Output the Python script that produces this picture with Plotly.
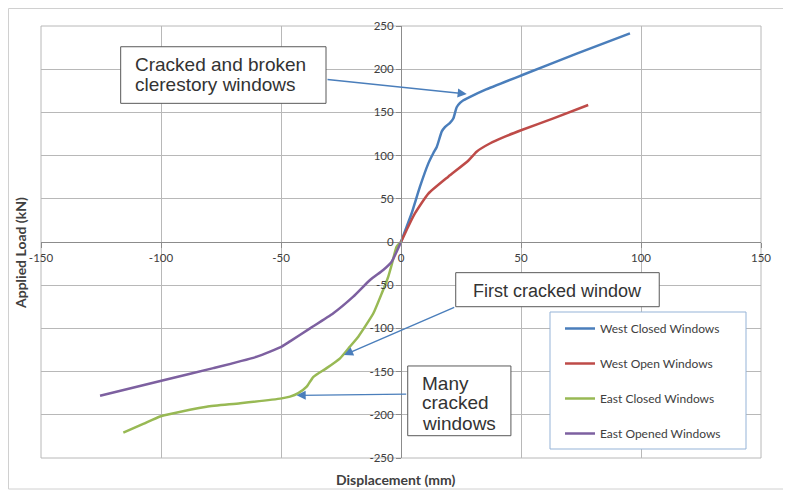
import plotly.graph_objects as go

# ---- data (displacement mm, applied load kN) ----
west_closed_x = [0, 2, 4.4, 7.9, 11.4, 13.5, 14.9, 17, 18.3, 20.4, 21.8, 23.2, 24.6, 26, 28.8, 35, 50.3, 73.2, 95.4]
west_closed_y = [0, 15, 33, 64, 91, 103, 110, 128, 133, 138, 143, 156, 161, 164, 168, 176, 193, 218, 241.5]

west_open_x = [0, 3, 5.8, 11.4, 19.7, 28, 31.5, 37, 43.3, 50.3, 63.5, 78]
west_open_y = [0, 17.7, 33, 56, 75.6, 94, 104.5, 114, 122, 129.6, 143, 158.6]

east_closed_x = [0, -1.8, -3.9, -5.3, -8, -11.5, -15, -17.8, -21.25, -25.4, -31, -36.5, -39.3, -42.8, -46.25, -49.7, -67, -81, -97.6, -100.4, -107.4, -115.7]
east_closed_y = [0, -5.4, -26.6, -40, -59.4, -82.5, -98, -109.6, -121, -134.6, -146, -156, -167.5, -175, -179, -181, -186.7, -190.6, -200, -202, -210.6, -220.7]

east_open_x = [0, -3.9, -7.4, -12.9, -19.9, -28.2, -37.9, -46.25, -49.7, -60, -78.2, -99, -125.4]
east_open_y = [0, -22.8, -32.4, -44, -63.3, -82.5, -100, -115, -121, -132.7, -146, -160, -178]

series_names = ["West Closed Windows", "West Open Windows", "East Closed Windows", "East Opened Windows"]
series_colors = ["#4A7EBB", "#BE4B48", "#98B954", "#7D60A0"]

x_ticks = [-150, -100, -50, 0, 50, 100, 150]
y_ticks = [-250, -200, -150, -100, -50, 0, 50, 100, 150, 200, 250]
x_ticktext = [str(v) for v in x_ticks]
y_ticktext = [str(v) for v in y_ticks]

fig = go.Figure()
for name, xs, ys, col in zip(series_names,
                             [west_closed_x, west_open_x, east_closed_x, east_open_x],
                             [west_closed_y, west_open_y, east_closed_y, east_open_y],
                             series_colors):
    fig.add_trace(go.Scatter(x=xs, y=ys, mode="lines", name=name, legendgroup=name,
                             line=dict(color=col, width=2.5, shape="spline", smoothing=0.5)))

grid = "#B8B8B8"
axcol = "#8C8C8C"
tickfont = dict(family="Lato", size=11.5, color="#404040")

fig.update_xaxes(range=[-150, 150], tickvals=x_ticks, ticktext=x_ticktext, showgrid=True,
                 gridcolor=grid, gridwidth=1,
                 zeroline=False, showline=True, linecolor=axcol, linewidth=1,
                 anchor="free", position=0.5, ticks="outside", ticklen=5, tickcolor=axcol,
                 tickfont=tickfont)
fig.update_yaxes(range=[-250, 250], tickvals=y_ticks, ticktext=y_ticktext, showgrid=True,
                 gridcolor=grid, gridwidth=1,
                 zeroline=False, showline=True, linecolor=axcol, linewidth=1,
                 anchor="free", position=0.5, ticks="outside", ticklen=5, tickcolor=axcol,
                 tickfont=tickfont)

shapes = [
    # chart border
    dict(type="rect", xref="paper", yref="paper", x0=-32.5/720, x1=1.06, y0=-31/432, y1=449.5/432,
         line=dict(color="#D0D0D0", width=1), layer="below"),
    # plot frame
    dict(type="rect", xref="paper", yref="paper", x0=0, x1=1, y0=0, y1=1,
         line=dict(color=grid, width=1), layer="below"),
    # legend frame
    dict(type="rect", xref="paper", yref="paper", x0=509/720, x1=705/720, y0=9/432, y1=146/432,
         line=dict(color="#95B3D7", width=1), fillcolor="white", layer="above"),
    # annotation boxes
    dict(type="rect", xref="x", yref="y", x0=-116.8, x1=-31.25, y0=160.5, y1=226,
         line=dict(color="#595959", width=1), fillcolor="white", layer="above"),
    dict(type="rect", xref="x", yref="y", x0=22.8, x1=107.6, y0=-74.9, y1=-35.5,
         line=dict(color="#595959", width=1), fillcolor="white", layer="above"),
    dict(type="rect", xref="x", yref="y", x0=2.8, x1=45.8, y0=-224.2, y1=-143.5,
         line=dict(color="#595959", width=1), fillcolor="white", layer="above"),
]

f19 = dict(family="Liberation Sans", size=19, color="#333333")
f18 = dict(family="Liberation Sans", size=18, color="#333333")
txt = dict(xref="x", yref="y", showarrow=False, borderpad=0, borderwidth=0, yanchor="middle")
arrow = dict(showarrow=True, arrowhead=2, arrowsize=1.3, arrowwidth=1.4, arrowcolor="#4A7EBB",
             standoff=0, startstandoff=0, axref="x", ayref="y", text="")
annotations = [
    dict(x=-110.8, y=206.0, xanchor="left", text="Cracked and broken", font=f19, **txt),
    dict(x=-110.8, y=182.3, xanchor="left", text="clerestory windows", font=f19, **txt),
    dict(x=65.4, y=-56.4, xanchor="center", text="First cracked window", font=f18, **txt),
    dict(x=8.6, y=-163.2, xanchor="left", text="Many", font=f19, **txt),
    dict(x=8.6, y=-186.3, xanchor="left", text="cracked", font=f19, **txt),
    dict(x=8.6, y=-209.5, xanchor="left", text="windows", font=f19, **txt),
    dict(x=27.4, y=171.3, ax=-31.25, ay=188.3, xref="x", yref="y", **arrow),
    dict(x=-23.75, y=-130.8, ax=22.8, ay=-74.9, xref="x", yref="y", **arrow),
    dict(x=-43.5, y=-177.5, ax=2.8, ay=-176, xref="x", yref="y", **arrow),
    # axis titles
    dict(x=354/720, y=-22/432, xref="paper", yref="paper", xanchor="center", yanchor="middle",
         text="<b>Displacement (mm)</b>", showarrow=False,
         font=dict(family="Lato", size=14, color="#404040")),
    dict(x=-21/720, y=205/432, xref="paper", yref="paper", xanchor="center", yanchor="middle",
         text="<b>Applied Load (kN)</b>", textangle=-90, showarrow=False,
         font=dict(family="Lato", size=14, color="#404040")),
]

# the page body adds an 8px offset, so the figure is sized to fit the 791x492 window exactly
fig.update_layout(
    width=783, height=484,
    margin=dict(l=33, r=30, t=18, b=34),
    plot_bgcolor="white", paper_bgcolor="white",
    font=dict(family="Lato", size=12, color="#404040"),
    shapes=shapes, annotations=annotations,
    showlegend=True,
    legend=dict(x=519/720, y=144/432, xanchor="left", yanchor="top",
                bgcolor="rgba(0,0,0,0)", borderwidth=0, tracegroupgap=16,
                font=dict(family="Lato", size=12, color="#404040"), itemwidth=30),
)

fig.write_html("out.html")
